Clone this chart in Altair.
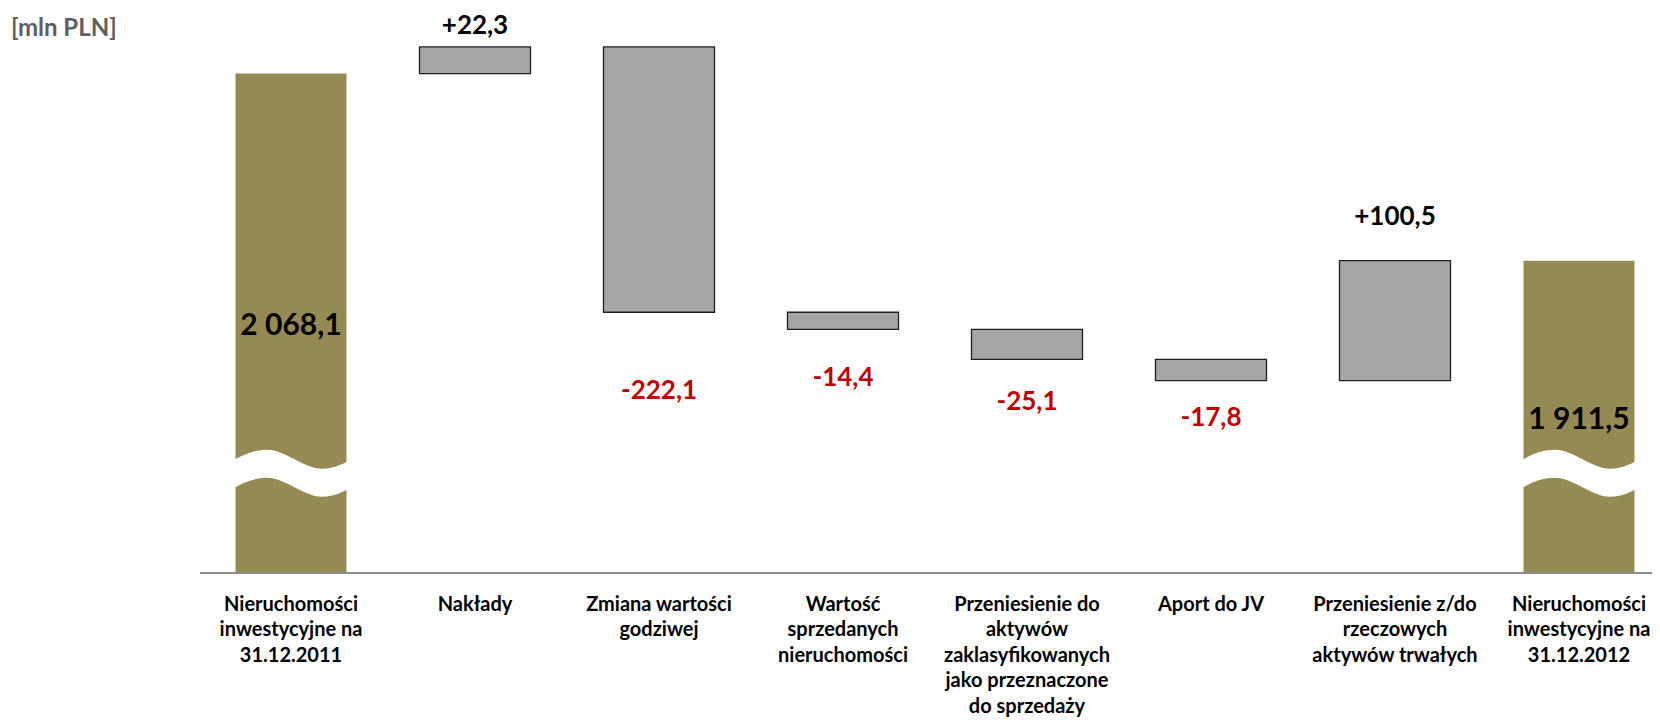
import altair as alt
import pandas as pd

# ---------------- data ----------------
categories = [
    "Nieruchomości\ninwestycyjne na\n31.12.2011",
    "Nakłady",
    "Zmiana wartości\ngodziwej",
    "Wartość\nsprzedanych\nnieruchomości",
    "Przeniesienie do\naktywów\nzaklasyfikowanych\njako przeznaczone\ndo sprzedaży",
    "Aport do JV",
    "Przeniesienie z/do\nrzeczowych\naktywów trwałych",
    "Nieruchomości\ninwestycyjne na\n31.12.2012",
]
kinds = ["total", "delta", "delta", "delta", "delta", "delta", "delta", "total"]
values = [2068.1, 22.3, -222.1, -14.4, -25.1, -17.8, 100.5, 1911.5]
value_labels = ["2 068,1", "+22,3", "-222,1", "-14,4", "-25,1", "-17,8", "+100,5", "1 911,5"]
unit_label = ["[mln PLN]"]

# ---------------- style ----------------
label_offset_px = [252, -21, 79, 49, 43, 37, -44, 159]   # label shift from bar end (px, + = down)
axis_floor = 1650      # broken axis: visible domain start
axis_top = 2116.3
break_at = 1733        # where the break symbol sits
PLOT_W, PLOT_H = 1452, 557
BAND_RANGE = [35.5, 1434.5]   # pixel span of the bands inside the plot
GOLD = "#968A54"
GRAY = "#A6A6A6"
RED = "#C00000"
FONT = "Lato"
units_per_px = (axis_top - axis_floor) / PLOT_H

WAVE = ("M -60 -12 C -47 -20 -36 -24 -24 -24 C -6 -24 13 -5 31 -5 "
        "C 42 -5 50 -9 60 -14 L 60 14 C 50 19 42 23 31 23 "
        "C 13 23 -6 4 -24 4 C -36 4 -47 8 -60 16 Z")

rows = []
running = 0.0
for c, k, v, lab, off in zip(categories, kinds, values, value_labels, label_offset_px):
    if k == "total":
        start, end = axis_floor, v
        running = v
    else:
        start, end = running, running + v
        running = end
    rows.append(dict(category=c, kind=k, start=start, end=end, label=lab, offset=off,
                     brk=break_at,
                     tcolor=RED if (k == "delta" and v < 0) else "#000000"))
df = pd.DataFrame(rows)

x_enc = alt.X(
    "category:N", sort=categories,
    scale=alt.Scale(range=BAND_RANGE, paddingInner=0.3967, paddingOuter=0, round=False),
    axis=alt.Axis(
        title=None, ticks=False, domain=False, labelAngle=0,
        labelFont=FONT, labelFontSize=20, labelFontWeight="bold", labelColor="#000000",
        labelLineHeight=25.5, labelPadding=21, labelBaseline="top", labelLimit=0,
        labelOverlap=False, labelFlush=False,
        labelExpr="split(datum.label, '\\n')",
    ),
)
y_scale = alt.Scale(domain=[axis_floor, axis_top], zero=False, nice=False)

base = alt.Chart(df)

total_bars = base.transform_filter("datum.kind == 'total'").mark_bar(color=GOLD).encode(
    x=x_enc, y=alt.Y("start:Q", scale=y_scale, axis=None), y2="end:Q")

delta_bars = base.transform_filter("datum.kind == 'delta'").mark_bar(
    color=GRAY, stroke="#1F1F1F", strokeWidth=1.3).encode(
    x=x_enc, y=alt.Y("start:Q", scale=y_scale, axis=None), y2="end:Q")

breaks = base.transform_filter("datum.kind == 'total'").mark_point(
    shape=WAVE, filled=True, fill="white", size=4, opacity=1, strokeWidth=0).encode(
    x=x_enc, y=alt.Y("brk:Q", scale=y_scale, axis=None))

labels_common = base.transform_calculate(
    label_y=f"datum.end - datum.offset * {units_per_px}")

total_text = labels_common.transform_filter("datum.kind == 'total'").mark_text(
    font=FONT, fontWeight="bold", fontSize=30, baseline="middle").encode(
    x=x_enc, y=alt.Y("label_y:Q", scale=y_scale, axis=None),
    text="label:N", color=alt.Color("tcolor:N", scale=None))

delta_text = labels_common.transform_filter("datum.kind == 'delta'").mark_text(
    font=FONT, fontWeight="bold", fontSize=26, baseline="middle").encode(
    x=x_enc, y=alt.Y("label_y:Q", scale=y_scale, axis=None),
    text="label:N", color=alt.Color("tcolor:N", scale=None))

unit = alt.Chart(pd.DataFrame({"t": unit_label})).mark_text(
    font=FONT, fontWeight="bold", fontSize=24, color="#5F5F5F", align="left", baseline="middle").encode(
    x=alt.value(-189), y=alt.value(13), text="t:N")

baseline_rule = alt.Chart(pd.DataFrame({"t": unit_label})).mark_rule(
    color="#8C8C8C", strokeWidth=2).encode(
    x=alt.value(0), x2=alt.value(PLOT_W), y=alt.value(PLOT_H))

chart = alt.layer(total_bars, delta_bars, breaks, baseline_rule, total_text, delta_text, unit).properties(
    width=PLOT_W, height=PLOT_H,
    autosize=alt.AutoSizeParams(type="none"),
    padding={"left": 192, "top": 8, "right": 0, "bottom": 147},
).configure_view(stroke=None)

chart.save("out.html", embed_options={"renderer": "svg", "actions": False})
